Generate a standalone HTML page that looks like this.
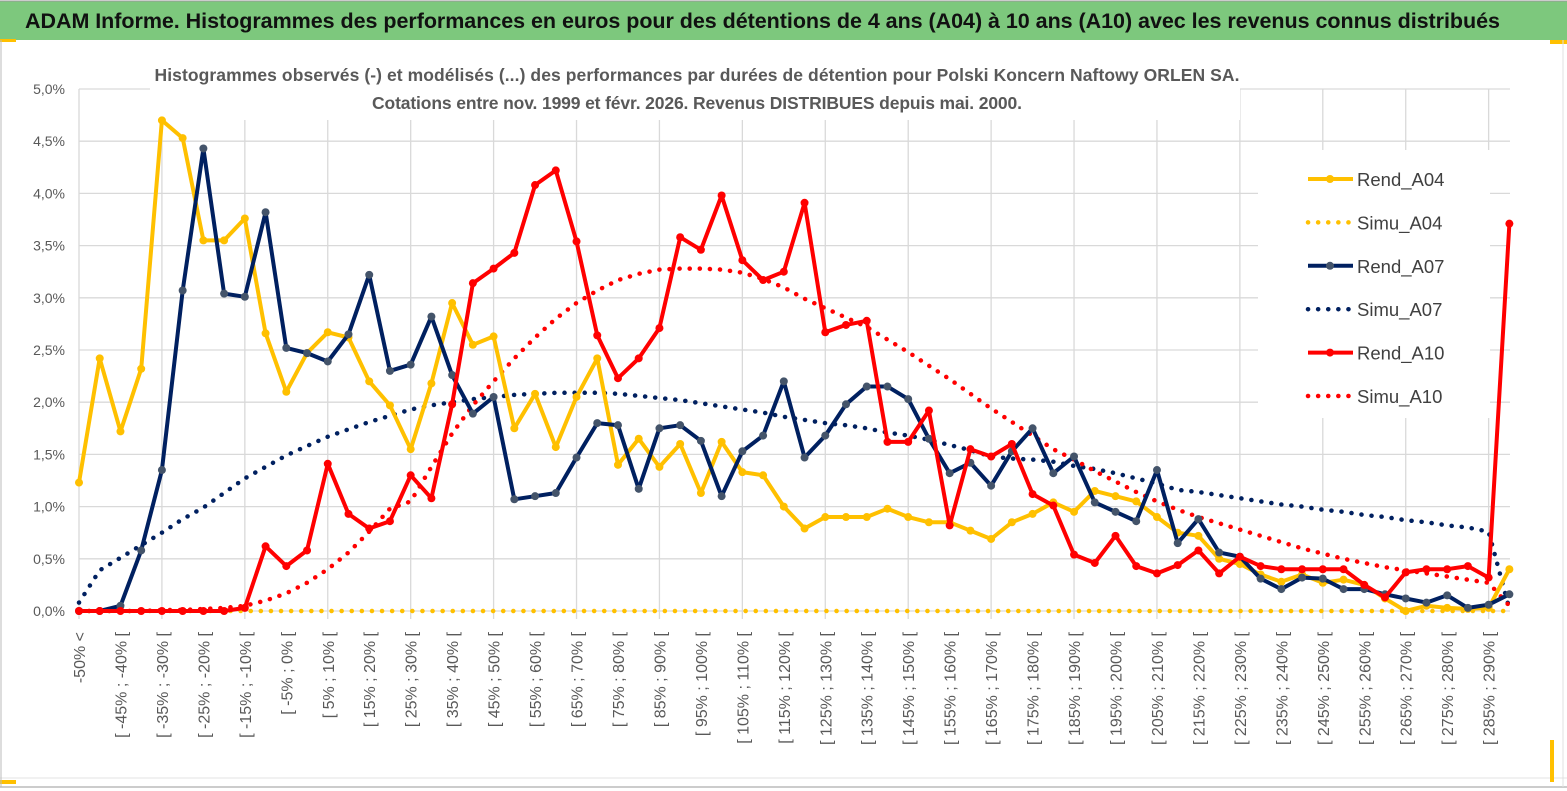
<!DOCTYPE html>
<html><head><meta charset="utf-8"><style>
body{margin:0;background:#fff;}
svg{display:block;font-family:"Liberation Sans",sans-serif;}
</style></head><body>
<svg id="chart" width="1567" height="791" viewBox="0 0 1567 791" xmlns="http://www.w3.org/2000/svg">
<rect x="0" y="0" width="1567" height="791" fill="#fff"/>
<rect x="0" y="1" width="1567" height="39" fill="#7dc87d"/>
<line x1="0" y1="1" x2="1567" y2="1" stroke="#999" stroke-width="1"/>
<rect x="0" y="39" width="16" height="3" fill="#ffc000"/>
<rect x="1550" y="40" width="17" height="4" fill="#ffc000"/>
<text x="25" y="28" font-size="21.5" font-weight="bold" fill="#111" textLength="1475">ADAM Informe. Histogrammes des performances en euros pour des détentions de 4 ans (A04) à 10 ans (A10) avec les revenus connus distribués</text>
<line x1="0" y1="787" x2="1567" y2="787" stroke="#999"/>
<line x1="0" y1="778" x2="1567" y2="778" stroke="#e3e3e3"/>
<rect x="0" y="780" width="16" height="4" fill="#ffc000"/>
<rect x="1550" y="740" width="4" height="42" fill="#ffc000"/>
<line x1="1" y1="40" x2="1" y2="787" stroke="#bbb"/>
<line x1="1563" y1="40" x2="1563" y2="787" stroke="#e0e0e0"/>
<g id="grid"></g>
<rect x="150" y="58" width="1090" height="62" fill="#fff"/>
<text x="697" y="81" text-anchor="middle" font-size="17.5" font-weight="bold" fill="#595959" textLength="1085">Histogrammes observés (-) et modélisés (...)  des performances par durées de détention pour Polski Koncern Naftowy ORLEN SA.</text>
<text x="697" y="109" text-anchor="middle" font-size="17.5" font-weight="bold" fill="#595959" textLength="650">Cotations entre nov. 1999 et févr. 2026. Revenus DISTRIBUES depuis mai. 2000.</text>
<g id="yaxis"></g>
<g id="xaxis"></g>
<rect x="1258" y="150" width="232" height="268" fill="#fff"/>
<g id="series"></g>
<g id="legend"></g>
</svg>
<script>
const rendA04=[1.23,2.42,1.72,2.32,4.70,4.53,3.55,3.55,3.76,2.66,2.10,2.47,2.67,2.62,2.20,1.97,1.55,2.18,2.95,2.55,2.63,1.75,2.08,1.57,2.05,2.42,1.40,1.65,1.38,1.60,1.13,1.62,1.33,1.30,1.00,0.79,0.90,0.90,0.90,0.98,0.90,0.85,0.85,0.77,0.69,0.85,0.93,1.04,0.95,1.15,1.10,1.05,0.90,0.75,0.72,0.50,0.45,0.35,0.28,0.35,0.27,0.30,0.25,0.12,0.00,0.05,0.03,0.02,0.03,0.40];
const simuA04=[0,0,0,0,0,0,0,0,0,0,0,0,0,0,0,0,0,0,0,0,0,0,0,0,0,0,0,0,0,0,0,0,0,0,0,0,0,0,0,0,0,0,0,0,0,0,0,0,0,0,0,0,0,0,0,0,0,0,0,0,0,0,0,0,0,0,0,0,0,0];
const rendA07=[0,0,0.05,0.58,1.35,3.07,4.43,3.04,3.01,3.82,2.52,2.47,2.39,2.65,3.22,2.30,2.36,2.82,2.26,1.89,2.05,1.07,1.10,1.13,1.47,1.80,1.78,1.17,1.75,1.78,1.63,1.10,1.53,1.68,2.20,1.47,1.68,1.98,2.15,2.15,2.03,1.65,1.32,1.42,1.20,1.53,1.75,1.32,1.48,1.04,0.95,0.86,1.35,0.65,0.88,0.56,0.52,0.31,0.21,0.32,0.31,0.21,0.21,0.16,0.12,0.08,0.15,0.03,0.06,0.16];
const simuA07=[0.08,0.39,0.51,0.63,0.75,0.88,0.99,1.13,1.27,1.38,1.49,1.58,1.67,1.74,1.81,1.87,1.93,1.97,2.00,2.03,2.05,2.07,2.08,2.09,2.09,2.09,2.08,2.06,2.04,2.02,1.99,1.96,1.93,1.90,1.86,1.83,1.80,1.78,1.75,1.71,1.68,1.64,1.59,1.54,1.48,1.46,1.45,1.43,1.39,1.36,1.32,1.27,1.22,1.16,1.14,1.11,1.08,1.05,1.02,1.00,0.97,0.95,0.92,0.90,0.87,0.85,0.82,0.80,0.76,0.02];
const rendA10=[0,0,0,0,0,0,0,0,0.03,0.62,0.43,0.58,1.41,0.93,0.79,0.86,1.30,1.08,1.98,3.14,3.28,3.43,4.08,4.22,3.54,2.64,2.23,2.42,2.71,3.58,3.46,3.98,3.36,3.17,3.25,3.91,2.67,2.74,2.78,1.62,1.62,1.92,0.82,1.55,1.48,1.60,1.12,1.01,0.54,0.46,0.72,0.43,0.36,0.44,0.58,0.36,0.52,0.43,0.40,0.40,0.40,0.40,0.25,0.13,0.37,0.40,0.40,0.43,0.32,3.71];
const simuA10=[0,0,0,0,0.01,0.01,0.02,0.03,0.05,0.10,0.17,0.27,0.40,0.56,0.76,0.98,1.05,1.38,1.70,1.97,2.20,2.42,2.62,2.80,2.95,3.07,3.17,3.23,3.27,3.28,3.28,3.27,3.24,3.18,3.10,2.99,2.90,2.81,2.72,2.60,2.48,2.35,2.22,2.08,1.94,1.81,1.68,1.55,1.45,1.34,1.24,1.14,1.05,0.97,0.90,0.84,0.78,0.72,0.66,0.60,0.55,0.50,0.46,0.42,0.39,0.36,0.33,0.30,0.27,0.05];
const yTicks=[0,0.5,1,1.5,2,2.5,3,3.5,4,4.5,5];
const yTickLabels=["0,0%","0,5%","1,0%","1,5%","2,0%","2,5%","3,0%","3,5%","4,0%","4,5%","5,0%"];
const binLow=[];for(let k=1;k<70;k++)binLow.push(-55+5*k);
const categories=["-50% <"].concat(binLow.map(a=>"[ "+a+"% ; "+(a+5)+"% ["));

const NS="http://www.w3.org/2000/svg";
const X0=79,DX=20.73,Y0=611,PY=104.4,XR=1510;
const xs=i=>X0+i*DX, ys=v=>Y0-v*PY;
function mk(tag,attrs,parent){const e=document.createElementNS(NS,tag);for(const k in attrs)e.setAttribute(k,attrs[k]);parent.appendChild(e);return e;}
const grid=document.getElementById('grid'),yax=document.getElementById('yaxis'),xax=document.getElementById('xaxis'),ser=document.getElementById('series'),leg=document.getElementById('legend');
yTicks.forEach((t,i)=>{
  const l=mk('line',{x1:X0,x2:XR,y1:ys(t),y2:ys(t),stroke:'#d9d9d9','stroke-width':1.3},grid);
  
  
  const tx=mk('text',{x:65,y:ys(t)+5,'text-anchor':'end','font-size':14,fill:'#595959'},yax);
  tx.textContent=yTickLabels[i];
  
  
});
for(let i=0;i<categories.length;i+=4){
  const l=mk('line',{x1:xs(i),x2:xs(i),y1:ys(5),y2:Y0+8,stroke:'#d9d9d9','stroke-width':1.3},grid);
  
  
}
categories.forEach((c,i)=>{
  if(i%2)return;
  const x=xs(i)+6,y=632;
  const t=mk('text',{x:x,y:y,transform:`rotate(-90 ${x} ${y})`,'text-anchor':'end','font-size':16,fill:'#595959'},xax);
  t.textContent=c;
  
  
});
function pts(d){return d.map((v,i)=>xs(i).toFixed(1)+','+ys(v).toFixed(1)).join(' ');}
function dotted(d,color,name){
  const p=mk('polyline',{points:pts(d),fill:'none',stroke:color,'stroke-width':4.5,'stroke-linecap':'round','stroke-dasharray':'0.1 10'},ser);
  
  
}
function solid(d,color,mcol,name){
  const g=mk('g',{},ser);
  
  
  mk('polyline',{points:pts(d),fill:'none',stroke:color,'stroke-width':4,'stroke-linejoin':'round'},g);
  d.forEach((v,i)=>{const c=mk('circle',{cx:xs(i),cy:ys(v),r:4,fill:mcol},g);
    
    });
}
dotted(simuA04,'#ffc000','simu-a04-line');
dotted(simuA07,'#002060','simu-a07-line');
dotted(simuA10,'#ff0000','simu-a10-line');
solid(rendA04,'#ffc000','#ffc000','rend-a04-line');
solid(rendA07,'#002060','#44546a','rend-a07-line');
solid(rendA10,'#ff0000','#ff0000','rend-a10-line');
const legItems=[["Rend_A04","#ffc000","#ffc000",false],["Simu_A04","#ffc000",null,true],["Rend_A07","#002060","#44546a",false],["Simu_A07","#002060",null,true],["Rend_A10","#ff0000","#ff0000",false],["Simu_A10","#ff0000",null,true]];
legItems.forEach((it,i)=>{
  const y=179+i*43.4;
  const g=mk('g',{},leg);
  
  
  if(it[3]) mk('line',{x1:1308,x2:1352,y1:y,y2:y,stroke:it[1],'stroke-width':4.5,'stroke-linecap':'round','stroke-dasharray':'0.1 10'},g);
  else {mk('line',{x1:1308,x2:1353,y1:y,y2:y,stroke:it[1],'stroke-width':4},g);mk('circle',{cx:1330,cy:y,r:4,fill:it[2]},g);}
  const t=mk('text',{x:1357,y:y+7,'font-size':18.5,fill:'#404040'},g);
  t.textContent=it[0];
});
</script>
</body></html>
